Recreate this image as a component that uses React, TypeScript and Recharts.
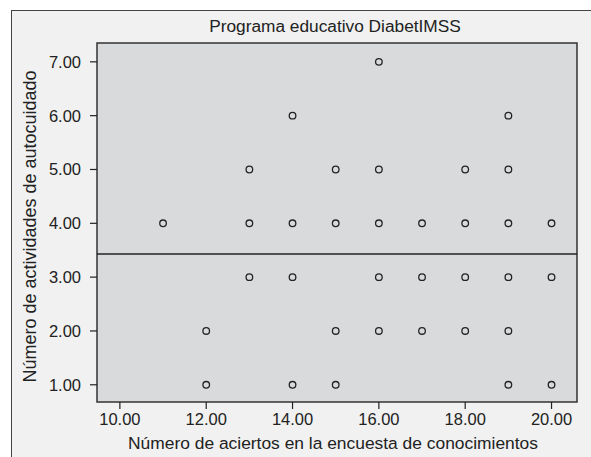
import React from "react";
import {
  ScatterChart,
  Scatter,
  XAxis,
  YAxis,
  ReferenceArea,
  ReferenceLine,
} from "recharts";

// aciertos (x) y actividades de autocuidado (y), un punto por par
const aciertos = [
  11,
  12, 12,
  13, 13, 13,
  14, 14, 14, 14,
  15, 15, 15, 15,
  16, 16, 16, 16, 16,
  17, 17, 17,
  18, 18, 18, 18,
  19, 19, 19, 19, 19, 19,
  20, 20, 20,
];
const actividades = [
  4,
  2, 1,
  5, 4, 3,
  6, 4, 3, 1,
  5, 4, 2, 1,
  7, 5, 4, 3, 2,
  4, 3, 2,
  5, 4, 3, 2,
  6, 5, 4, 3, 2, 1,
  4, 3, 1,
];
const xTicks = [10, 12, 14, 16, 18, 20];
const yTicks = [1, 2, 3, 4, 5, 6, 7];
const mediaActividades = 3.43;

const X_DOMAIN: [number, number] = [9.47, 20.59];
const Y_DOMAIN: [number, number] = [0.68, 7.35];

const FONT = "'Liberation Sans', Arial, sans-serif";
const INK = "#222";

const data = aciertos.map((x, i) => ({ x, y: actividades[i] }));

function Punto(props: any) {
  const { cx, cy } = props;
  if (cx == null || cy == null) return null;
  return <circle cx={cx} cy={cy} r={3.3} fill="none" stroke={INK} strokeWidth={1.3} />;
}

// etiqueta vertical del eje Y, un poco por debajo del centro como en el original
function EtiquetaY(props: any) {
  const vb = props.viewBox || {};
  const cx = 30;
  const cy = (vb.y ?? 43) + (vb.height ?? 359) / 2 + 4;
  return (
    <text
      x={cx}
      y={cy}
      transform={`rotate(-90, ${cx}, ${cy})`}
      textAnchor="middle"
      dominantBaseline="central"
      fill={INK}
      fontSize={18}
      fontFamily={FONT}
    >
      Número de actividades de autocuidado
    </text>
  );
}

export default function App() {
  return (
    <div
      style={{
        position: "absolute",
        left: 0,
        top: 0,
        width: 591,
        height: 457,
        background: "#fff",
        overflow: "hidden",
        fontFamily: FONT,
      }}
    >
      {/* marco exterior */}
      <div
        style={{
          position: "absolute",
          left: 11,
          top: 10,
          width: 600,
          height: 500,
          border: "1px solid #444",
          background: "#f0f1f0",
        }}
      />
      <div
        style={{
          position: "absolute",
          left: 95,
          width: 480,
          top: 16,
          textAlign: "center",
          fontSize: 17.3,
          color: INK,
        }}
      >
        Programa educativo DiabetIMSS
      </div>
      <div style={{ position: "absolute", left: 0, top: 0 }}>
        <ScatterChart
          width={591}
          height={457}
          margin={{ top: 43, right: 14, bottom: 0, left: 0 }}
        >
          <XAxis
            type="number"
            dataKey="x"
            domain={X_DOMAIN}
            ticks={xTicks}
            allowDataOverflow
            tickFormatter={(v: number) => v.toFixed(2)}
            axisLine={false}
            tickLine={{ stroke: INK, strokeWidth: 1.2 }}
            tickSize={7}
            tickMargin={4}
            height={55}
            tick={{ fill: INK, fontSize: 16.5, fontFamily: FONT }}
            label={{
              value: "Número de aciertos en la encuesta de conocimientos",
              position: "insideBottom",
              offset: 8,
              dx: -4,
              fill: INK,
              fontSize: 17.4,
              fontFamily: FONT,
            }}
          />
          <YAxis
            type="number"
            dataKey="y"
            domain={Y_DOMAIN}
            ticks={yTicks}
            allowDataOverflow
            tickFormatter={(v: number) => v.toFixed(2)}
            axisLine={false}
            tickLine={{ stroke: INK, strokeWidth: 1.2 }}
            tickSize={7}
            tickMargin={9}
            width={97}
            tick={{ fill: INK, fontSize: 16.5, fontFamily: FONT }}
            label={<EtiquetaY />}
          />
          <ReferenceArea
            x1={X_DOMAIN[0]}
            x2={X_DOMAIN[1]}
            y1={Y_DOMAIN[0]}
            y2={Y_DOMAIN[1]}
            fill="#d9dadc"
            fillOpacity={1}
            stroke="#333"
            strokeWidth={1.5}
          />
          <ReferenceLine y={mediaActividades} stroke={INK} strokeWidth={1.3} />
          <Scatter data={data} shape={<Punto />} isAnimationActive={false} />
        </ScatterChart>
      </div>
    </div>
  );
}
